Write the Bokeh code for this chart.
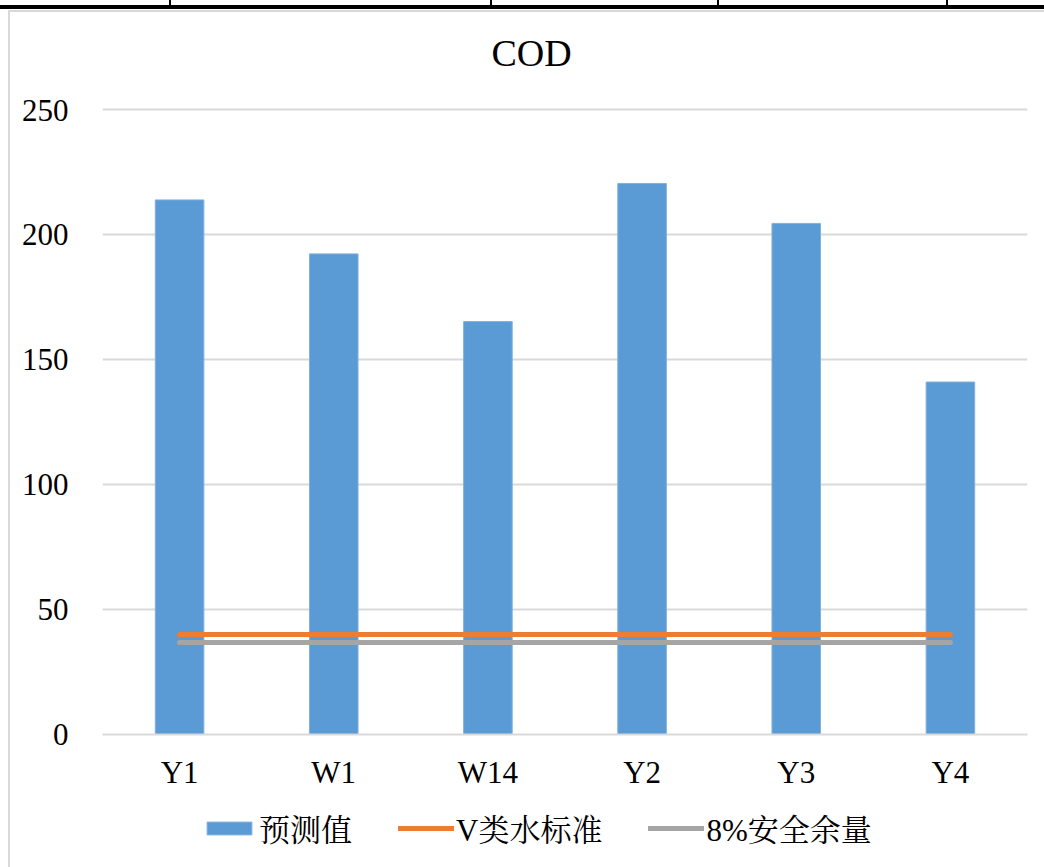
from bokeh.plotting import figure
from bokeh.models import Div, Legend, LegendItem, ColumnDataSource, FixedTicker
from bokeh.core.properties import value
from bokeh.layouts import column, row
from bokeh.embed import file_html
from bokeh.resources import INLINE

categories = ["Y1", "W1", "W14", "Y2", "Y3", "Y4"]
predicted = [214, 192.4, 165.3, 220.6, 204.6, 141.1]
standard_v = [40, 40, 40, 40, 40, 40]
safety_8pct = [36.8, 36.8, 36.8, 36.8, 36.8, 36.8]
y_ticks = [0, 50, 100, 150, 200, 250]

title_text = "COD"
label_pred = "预测值"
label_std = "V类水标准"
label_safe = "8%安全余量"

FONT = "'Liberation Serif', 'Noto Serif CJK SC', 'Noto Sans CJK SC', serif"
BAR_FILL = "#5b9bd5"
BAR_LINE = "#7fb0e0"
ORANGE = "#ed7d31"
GRAY = "#a5a5a5"
W = 1034
BL, BR = 92, 17          # shared left/right borders (frames are aligned in the column)
FW = W - BL - BR         # frame width


def strip(height):
    f = figure(width=W, height=height, x_range=(0, FW), y_range=(0, height),
               output_backend="svg", toolbar_location=None,
               x_axis_location=None, y_axis_location=None,
               min_border_left=BL, min_border_right=BR, min_border_top=0, min_border_bottom=0)
    f.grid.grid_line_color = None
    f.outline_line_color = None
    f.margin = (0, 0, 0, 0)
    return f


# title strip (title centred on the whole chart area, not on the plot frame)
tf = strip(80)
tf.text(x=[(W / 2 + 4) - BL], y=[40], text=[title_text], text_font=value(FONT), text_font_size="38px",
        text_align="center", text_baseline="middle", text_color="#000000")

# main chart
src = ColumnDataSource(dict(x=categories, pred=predicted, std=standard_v, safe=safety_8pct))

p = figure(x_range=categories, y_range=(0, 251), width=W, height=708,
           output_backend="svg", toolbar_location=None,
           min_border_left=BL, min_border_right=BR, min_border_top=15, min_border_bottom=66)
p.outline_line_color = None
p.background_fill_color = "white"
p.border_fill_color = "white"
p.margin = (0, 0, 0, 0)

bars = p.vbar(x="x", top="pred", width=0.315, source=src,
              fill_color=BAR_FILL, line_color=BAR_LINE, line_width=1)
l1 = p.line(x="x", y="std", source=src, line_color=ORANGE, line_width=5, line_cap="round")
l2 = p.line(x="x", y="safe", source=src, line_color=GRAY, line_width=5, line_cap="round")

p.xgrid.grid_line_color = None
p.ygrid.grid_line_color = "#d9d9d9"
p.ygrid.grid_line_width = 2

p.yaxis.ticker = FixedTicker(ticks=y_ticks)
p.yaxis.axis_line_color = None
p.yaxis.major_tick_line_color = None
p.yaxis.minor_tick_line_color = None
p.yaxis.major_label_text_font = FONT
p.yaxis.major_label_text_font_size = "31px"
p.yaxis.major_label_text_color = "#000000"
p.yaxis.major_label_standoff = 28

p.xaxis.axis_line_color = "#d9d9d9"
p.xaxis.axis_line_width = 2
p.xaxis.major_tick_line_color = None
p.xaxis.minor_tick_line_color = None
p.xaxis.major_label_text_font = FONT
p.xaxis.major_label_text_font_size = "31px"
p.xaxis.major_label_text_color = "#000000"
p.xaxis.major_label_standoff = 14

# legend strip below the chart (legend swatches only; points lie outside the view)
lf = strip(67)
dummy = ColumnDataSource(dict(x=[-100], y=[-100], top=[-100]))
d_bar = lf.vbar(x="x", top="top", width=1, source=dummy, fill_color=BAR_FILL, line_color=BAR_LINE)
d_l1 = lf.line(x="x", y="y", source=dummy, line_color=ORANGE, line_width=5, line_cap="round")
d_l2 = lf.line(x="x", y="y", source=dummy, line_color=GRAY, line_width=5, line_cap="round")

legend = Legend(items=[LegendItem(label=label_pred, renderers=[d_bar]),
                       LegendItem(label=label_std, renderers=[d_l1]),
                       LegendItem(label=label_safe, renderers=[d_l2])],
                orientation="horizontal", location=(99, 17))
legend.label_text_font = FONT
legend.label_text_font_size = "31px"
legend.label_text_color = "#000000"
legend.glyph_width = 56
legend.glyph_height = 16
legend.label_standoff = 2
legend.spacing = 46
legend.border_line_color = None
legend.background_fill_alpha = 0
legend.margin = 0
legend.padding = 0
lf.add_layout(legend, "center")

top_html = """<div style="position:relative;width:1044px;height:12px;overflow:hidden;">
<div style="position:absolute;left:0;top:5px;width:1044px;height:4px;background:#000;"></div>
<div style="position:absolute;left:169px;top:0;width:2px;height:5px;background:#000;"></div>
<div style="position:absolute;left:490px;top:0;width:2px;height:5px;background:#000;"></div>
<div style="position:absolute;left:717px;top:0;width:2px;height:5px;background:#000;"></div>
<div style="position:absolute;left:946px;top:0;width:2px;height:5px;background:#000;"></div>
<div style="position:absolute;left:8px;top:10px;width:1036px;height:2px;background:#d9d9d9;"></div>
</div>"""
top = Div(text=top_html, width=1044, height=12, margin=(0, 0, 0, 0))
left_html = """<div style="position:relative;width:10px;height:855px;">
<div style="position:absolute;left:8px;top:0;width:2px;height:855px;background:#d9d9d9;"></div>
</div>"""
left = Div(text=left_html, width=10, height=855, margin=(0, 0, 0, 0))

layout = column(top, row(left, column(tf, p, lf, spacing=0), spacing=0), spacing=0)

open("out.html", "w").write(file_html(layout, INLINE))
